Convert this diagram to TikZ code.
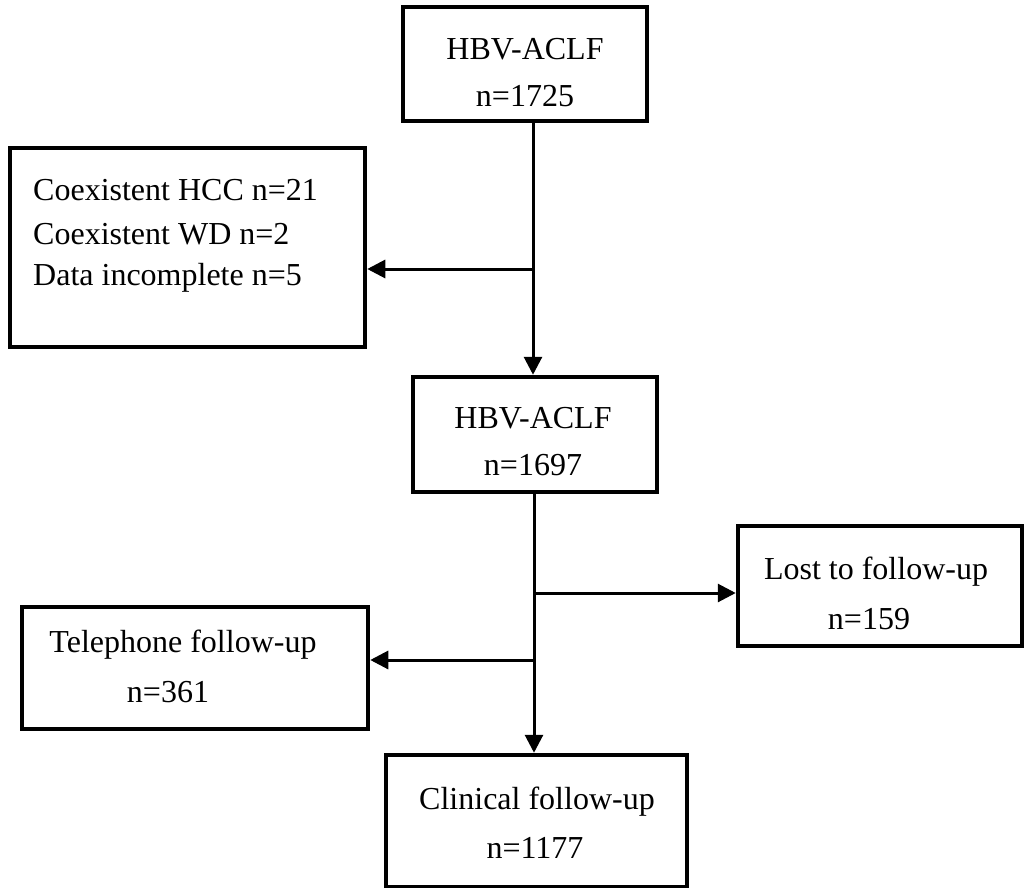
\documentclass[tikz,border=0pt]{standalone}
\usepackage{fontspec}
\setmainfont{Liberation Serif}
\usetikzlibrary{arrows.meta}
\begin{document}
\begin{tikzpicture}[x=1pt,y=-1pt,
  box/.style={draw=black,line width=4.5pt,fill=white,inner sep=0pt},
  txt/.style={inner sep=0pt,font=\fontsize{32}{44}\selectfont,anchor=center},
  conn/.style={line width=3pt,-{Triangle[length=18pt,width=18pt]}},
  seg/.style={line width=3pt}]
\useasboundingbox (0,0) rectangle (1026,888);
% boxes
\node[box,minimum width=244pt,minimum height=114pt] (b1) at (525,64) {};
\node[box,minimum width=355pt,minimum height=199pt] (b2) at (187.5,247.5) {};
\node[box,minimum width=244pt,minimum height=115pt] (b3) at (535,434.5) {};
\node[box,minimum width=284pt,minimum height=120pt] (b4) at (880,586) {};
\node[box,minimum width=346pt,minimum height=122pt] (b5) at (195,668) {};
\node[box,minimum width=301pt,minimum height=132pt] (b6) at (536.5,821) {};
% texts
\node[txt] (t1a) at (525,49) {HBV-ACLF};
\node[txt] (t1b) at (525,96) {n=1725};
\node[txt,anchor=west] (t2a) at (33,190) {Coexistent HCC n=21};
\node[txt,anchor=west] (t2b) at (33,234) {Coexistent WD n=2};
\node[txt,anchor=west] (t2c) at (33,278) {Data incomplete n=5};
\node[txt] (t3a) at (533,418) {HBV-ACLF};
\node[txt] (t3b) at (533,465) {n=1697};
\node[txt] (t4a) at (876,572) {Lost to follow-up};
\node[txt] (t4b) at (869,619) {n=159};
\node[txt] (t5a) at (183,645) {Telephone follow-up};
\node[txt] (t5b) at (168,692) {n=361};
\node[txt] (t6a) at (537,802) {Clinical follow-up};
\node[txt] (t6b) at (535,848) {n=1177};
% junctions
\coordinate (s1) at (533,121);
\coordinate (j1) at (533,269);
\coordinate (s2) at (534,492);
\coordinate (j2) at (534,593);
\coordinate (j3) at (534,660);
% connectors
\draw[conn] (s1) -- (s1 |- b3.north);
\draw[conn] (j1) -- (j1 -| b2.east);
\draw[conn] (s2) -- (s2 |- b6.north);
\draw[conn] (j2) -- (j2 -| b4.west);
\draw[conn] (j3) -- (j3 -| b5.east);
\end{tikzpicture}
\end{document}
